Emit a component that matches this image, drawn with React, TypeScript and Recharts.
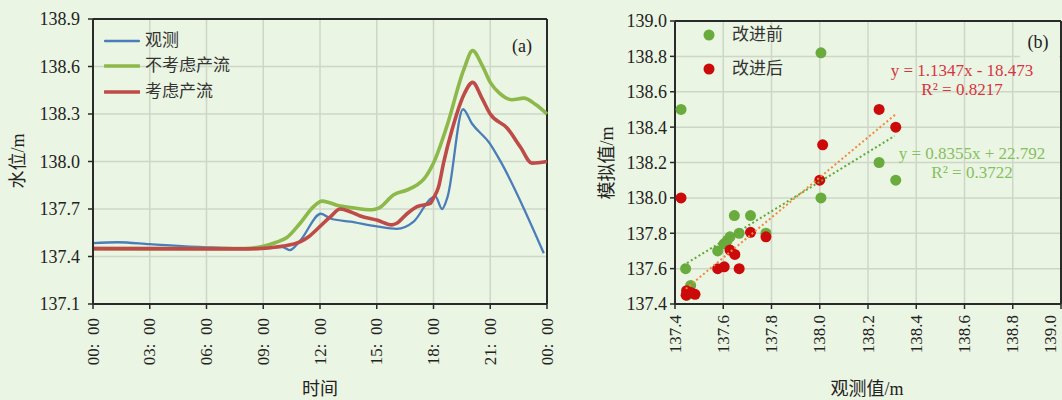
import React from 'react';
import {
  LineChart,
  Line,
  XAxis,
  YAxis,
  CartesianGrid,
  ReferenceLine,
  ScatterChart,
  Scatter,
  Legend,
} from 'recharts';

// ---------- styling constants ----------
const BG = '#EBF5E3';
const GRID = '#CDD7C8';
const AXIS = '#2A2A2A';
const TEXT = '#222222';
const NUM_FONT = "'Liberation Serif', 'Noto Sans CJK SC', serif";

// ---------- panel (a) data ----------
const hourTicks = [0, 3, 6, 9, 12, 15, 18, 21, 24];
const hourLabels = ['00:  00', '03:  00', '06:  00', '09:  00', '12:  00', '15:  00', '18:  00', '21:  00', '00:  00'];
const levelTicks = [137.1, 137.4, 137.7, 138.0, 138.3, 138.6, 138.9];

const seriesNames = ['观测', '不考虑产流', '考虑产流'];
const seriesColors = ['#4A7DBA', '#8DB84A', '#BE4B48'];
const seriesWidths = [2.3, 3.6, 3.6];

const obsHours = [0, 1.3, 3, 6, 8.3, 10.0, 10.4, 10.95, 12.05, 12.55, 13.6, 15, 16.05, 16.95, 17.9, 18.1, 18.45, 18.75, 19.56, 20.03, 21, 21.5, 23.83];
const obsLevels = [137.485, 137.49, 137.478, 137.458, 137.45, 137.46, 137.44, 137.5, 137.67, 137.64, 137.62, 137.59, 137.575, 137.62, 137.77, 137.78, 137.7, 137.78, 138.33, 138.24, 138.11, 138.01, 137.42];

const noRunoffHours = [0, 8, 9, 9.7, 10.25, 10.95, 11.66, 12.1, 12.5, 13.0, 13.6, 14.75, 15.1, 15.9, 16.6, 17.1, 17.5, 18, 18.7, 19.6, 20.07, 20.56, 21, 21.5, 22.15, 22.77, 23.4, 24];
const noRunoffLevels = [137.45, 137.45, 137.465, 137.49, 137.52, 137.61, 137.715, 137.75, 137.74, 137.72, 137.71, 137.695, 137.705, 137.79, 137.82, 137.85, 137.89, 137.99, 138.22, 138.58, 138.7, 138.61, 138.5, 138.43, 138.39, 138.4, 138.36, 138.3];

const runoffHours = [0, 8.3, 10.07, 10.97, 11.4, 12.0, 12.54, 13.07, 13.6, 14.13, 15.0, 15.8, 16.06, 16.6, 17.13, 17.83, 18.0, 18.27, 18.53, 18.98, 19.6, 20.07, 20.56, 21.0, 21.9, 22.6, 23.2, 24];
const runoffLevels = [137.45, 137.448, 137.466, 137.494, 137.525, 137.59, 137.65, 137.7, 137.683, 137.656, 137.63, 137.6, 137.61, 137.67, 137.715, 137.736, 137.77, 137.84, 137.99, 138.2, 138.42, 138.5, 138.4, 138.3, 138.21, 138.09, 137.99, 138.0];

// ---------- panel (b) data ----------
const scatterTicks = [137.4, 137.6, 137.8, 138.0, 138.2, 138.4, 138.6, 138.8, 139.0];
const beforeName = '改进前';
const afterName = '改进后';
const beforeColor = '#6AAB3E';
const afterColor = '#CC0A0A';

const beforeObs = [137.425, 138.005, 138.005, 138.246, 138.315, 137.444, 137.465, 137.577, 137.603, 137.617, 137.628, 137.646, 137.666, 137.713, 137.777, 137.45];
const beforeSim = [138.5, 138.82, 138.0, 138.2, 138.1, 137.6, 137.505, 137.7, 137.74, 137.76, 137.78, 137.9, 137.8, 137.9, 137.8, 137.45];

const afterObs = [137.425, 138.012, 138.0, 138.246, 138.315, 137.713, 137.777, 137.628, 137.648, 137.577, 137.604, 137.666, 137.448, 137.446, 137.483, 137.465];
const afterSim = [138.0, 138.3, 138.1, 138.5, 138.4, 137.805, 137.78, 137.705, 137.68, 137.6, 137.61, 137.6, 137.475, 137.45, 137.455, 137.465];

// trendline coefficients (as printed on chart) and extent
const afterFit = { slope: 1.1347, intercept: -18.473, from: 137.445, to: 138.315 };
const beforeFit = { slope: 0.8355, intercept: 22.792, from: 137.434, to: 138.31 };

// ---------- derived tables ----------
const toPts = (xs: number[], ys: number[]) => xs.map((x, i) => ({ x, y: ys[i] }));
const obsData = toPts(obsHours, obsLevels);
const noRunoffData = toPts(noRunoffHours, noRunoffLevels);
const runoffData = toPts(runoffHours, runoffLevels);
const lineData = [obsData, noRunoffData, runoffData];

const beforeData = toPts(beforeObs, beforeSim);
const afterData = toPts(afterObs, afterSim);
const fitPts = (f: { slope: number; intercept: number; from: number; to: number }) => [
  { x: f.from, y: f.slope * f.from + f.intercept },
  { x: f.to, y: f.slope * f.to + f.intercept },
];

// ---------- custom renderers ----------
const rotTick = (fmt: (v: number) => string, size: number) => (props: any) => {
  const { x, y, payload } = props;
  return (
    <text
      x={x}
      y={y}
      transform={`rotate(-90 ${x} ${y})`}
      textAnchor="end"
      dominantBaseline="central"
      fontSize={size}
      fontFamily={NUM_FONT}
      fill={TEXT}
      style={{ whiteSpace: 'pre' }}
    >
      {fmt(payload.value)}
    </text>
  );
};

const hourTick = rotTick((v) => hourLabels[hourTicks.indexOf(v)] ?? String(v), 17);
const obsTick = rotTick((v) => v.toFixed(1), 17);

const LineLegend = (props: any) => {
  const items = (props.payload || [])
    .filter((p: any) => seriesNames.includes(p.value))
    .sort((a: any, b: any) => seriesNames.indexOf(a.value) - seriesNames.indexOf(b.value));
  return (
    <div style={{ display: 'flex', flexDirection: 'column' }}>
      {items.map((it: any) => {
        const idx = seriesNames.indexOf(it.value);
        return (
          <div key={it.value} style={{ display: 'flex', alignItems: 'center', height: 25.5 }}>
            <svg width={36} height={8} style={{ display: 'block' }}>
              <line x1={1} x2={35} y1={4} y2={4} stroke={seriesColors[idx]} strokeWidth={seriesWidths[idx]} strokeLinecap="round" />
            </svg>
            <span style={{ marginLeft: 5, fontSize: 17, fontFamily: NUM_FONT, color: '#333', lineHeight: '20px' }}>{it.value}</span>
          </div>
        );
      })}
    </div>
  );
};

const ScatterLegend = (props: any) => {
  const order = [beforeName, afterName];
  const items = (props.payload || [])
    .filter((p: any) => order.includes(p.value))
    .sort((a: any, b: any) => order.indexOf(a.value) - order.indexOf(b.value));
  return (
    <div style={{ display: 'flex', flexDirection: 'column' }}>
      {items.map((it: any) => (
        <div key={it.value} style={{ display: 'flex', alignItems: 'center', height: 34 }}>
          <svg width={12} height={12} style={{ display: 'block' }}>
            <circle cx={6} cy={6} r={5.5} fill={it.value === beforeName ? beforeColor : afterColor} />
          </svg>
          <span style={{ marginLeft: 17, fontSize: 17, fontFamily: NUM_FONT, color: '#333', lineHeight: '20px' }}>{it.value}</span>
        </div>
      ))}
    </div>
  );
};

const dot = (color: string) => (p: any) => <circle cx={p.cx} cy={p.cy} r={5.5} fill={color} />;
const noDot = () => <g />;

export default function App() {
  return (
    <div
      style={{
        position: 'absolute',
        left: 0,
        top: 0,
        width: 1062,
        height: 400,
        background: BG,
        overflow: 'hidden',
      }}
    >
      {/* panel (a) */}
      <div style={{ position: 'absolute', left: 0, top: 0 }}>
        <LineChart width={560} height={400} margin={{ top: 19, right: 13, left: 0, bottom: 0 }}>
          <CartesianGrid stroke={GRID} strokeWidth={1.5} />
          <XAxis
            dataKey="x"
            type="number"
            domain={[0, 24]}
            ticks={hourTicks}
            allowDuplicatedCategory={false}
            height={96}
            tickSize={5}
            tickMargin={9}
            tick={hourTick}
            axisLine={{ stroke: AXIS, strokeWidth: 2 }}
            tickLine={{ stroke: AXIS, strokeWidth: 1.5 }}
          />
          <YAxis
            type="number"
            domain={[137.1, 138.9]}
            ticks={levelTicks}
            width={93}
            tickSize={5}
            tickMargin={8}
            tickFormatter={(v: number) => v.toFixed(1)}
            tick={{ fontSize: 18, fontFamily: NUM_FONT, fill: TEXT }}
            axisLine={{ stroke: AXIS, strokeWidth: 2 }}
            tickLine={{ stroke: AXIS, strokeWidth: 1.5 }}
          />
          <ReferenceLine y={138.9} stroke={AXIS} strokeWidth={2} />
          <ReferenceLine x={24} stroke={AXIS} strokeWidth={2} />
          {seriesNames.map((name, i) => (
            <Line
              key={name}
              name={name}
              data={lineData[i]}
              dataKey="y"
              type="monotone"
              stroke={seriesColors[i]}
              strokeWidth={seriesWidths[i]}
              dot={false}
              activeDot={false}
              isAnimationActive={false}
            />
          ))}
          <Legend
            layout="vertical"
            align="center"
            verticalAlign="middle"
            content={LineLegend}
            wrapperStyle={{ left: 104, top: 28, width: 160 }}
          />
        </LineChart>
      </div>

      {/* panel (b) */}
      <div style={{ position: 'absolute', left: 560, top: 0 }}>
        <ScatterChart width={502} height={400} margin={{ top: 21, right: 1, left: 0, bottom: 0 }}>
          <CartesianGrid stroke={GRID} strokeWidth={1.5} />
          <XAxis
            dataKey="x"
            type="number"
            domain={[137.4, 139.0]}
            ticks={scatterTicks}
            height={96}
            tickSize={5}
            tickMargin={6}
            tick={obsTick}
            axisLine={{ stroke: AXIS, strokeWidth: 2 }}
            tickLine={{ stroke: AXIS, strokeWidth: 1.5 }}
          />
          <YAxis
            dataKey="y"
            type="number"
            domain={[137.4, 139.0]}
            ticks={scatterTicks}
            width={115}
            tickSize={5}
            tickMargin={3}
            tickFormatter={(v: number) => v.toFixed(1)}
            tick={{ fontSize: 18, fontFamily: NUM_FONT, fill: TEXT }}
            axisLine={{ stroke: AXIS, strokeWidth: 2 }}
            tickLine={{ stroke: AXIS, strokeWidth: 1.5 }}
          />
          <ReferenceLine y={139.0} stroke={AXIS} strokeWidth={2} />
          <ReferenceLine x={139.0} stroke={AXIS} strokeWidth={2} />
          <Scatter name={beforeName} data={beforeData} fill={beforeColor} shape={dot(beforeColor)} isAnimationActive={false} />
          <Scatter name={afterName} data={afterData} fill={afterColor} shape={dot(afterColor)} isAnimationActive={false} />
          <Scatter
            name="after-fit"
            data={fitPts(afterFit)}
            legendType="none"
            line={{ stroke: '#F0893E', strokeWidth: 2, strokeDasharray: '2 2.5' }}
            shape={noDot}
            isAnimationActive={false}
          />
          <Scatter
            name="before-fit"
            data={fitPts(beforeFit)}
            legendType="none"
            line={{ stroke: '#5FA83A', strokeWidth: 2, strokeDasharray: '2 2.5' }}
            shape={noDot}
            isAnimationActive={false}
          />
          <Legend
            layout="vertical"
            align="center"
            verticalAlign="middle"
            content={ScatterLegend}
            wrapperStyle={{ left: 143, top: 18, width: 110 }}
          />
        </ScatterChart>
      </div>

      {/* annotations and axis titles */}
      <svg
        width={1062}
        height={400}
        style={{ position: 'absolute', left: 0, top: 0, pointerEvents: 'none' }}
      >
        <rect x={1020} y={22} width={39} height={40} fill={BG} />
        <g fontFamily={NUM_FONT} fill={TEXT} fontSize={18}>
          <text x={18} y={161} transform="rotate(-90 18 161)" textAnchor="middle" dominantBaseline="central">水位/m</text>
          <text x={320} y={389} textAnchor="middle" dominantBaseline="central">时间</text>
          <text x={522} y={46} textAnchor="middle" dominantBaseline="central">(a)</text>
          <text x={1038} y={42} textAnchor="middle" dominantBaseline="central">(b)</text>
          <text x={607} y={163} transform="rotate(-90 607 163)" textAnchor="middle" dominantBaseline="central">模拟值/m</text>
          <text x={867} y={389} textAnchor="middle" dominantBaseline="central">观测值/m</text>
        </g>
        <g fontFamily={NUM_FONT} fontSize={17}>
          <text x={962} y={70} textAnchor="middle" dominantBaseline="central" fill="#D6343F">y = 1.1347x - 18.473</text>
          <text x={962} y={89} textAnchor="middle" dominantBaseline="central" fill="#D6343F">R² = 0.8217</text>
          <text x={972} y={153} textAnchor="middle" dominantBaseline="central" fill="#86BF5E">y = 0.8355x + 22.792</text>
          <text x={972} y={172} textAnchor="middle" dominantBaseline="central" fill="#86BF5E">R² = 0.3722</text>
        </g>
      </svg>
    </div>
  );
}
